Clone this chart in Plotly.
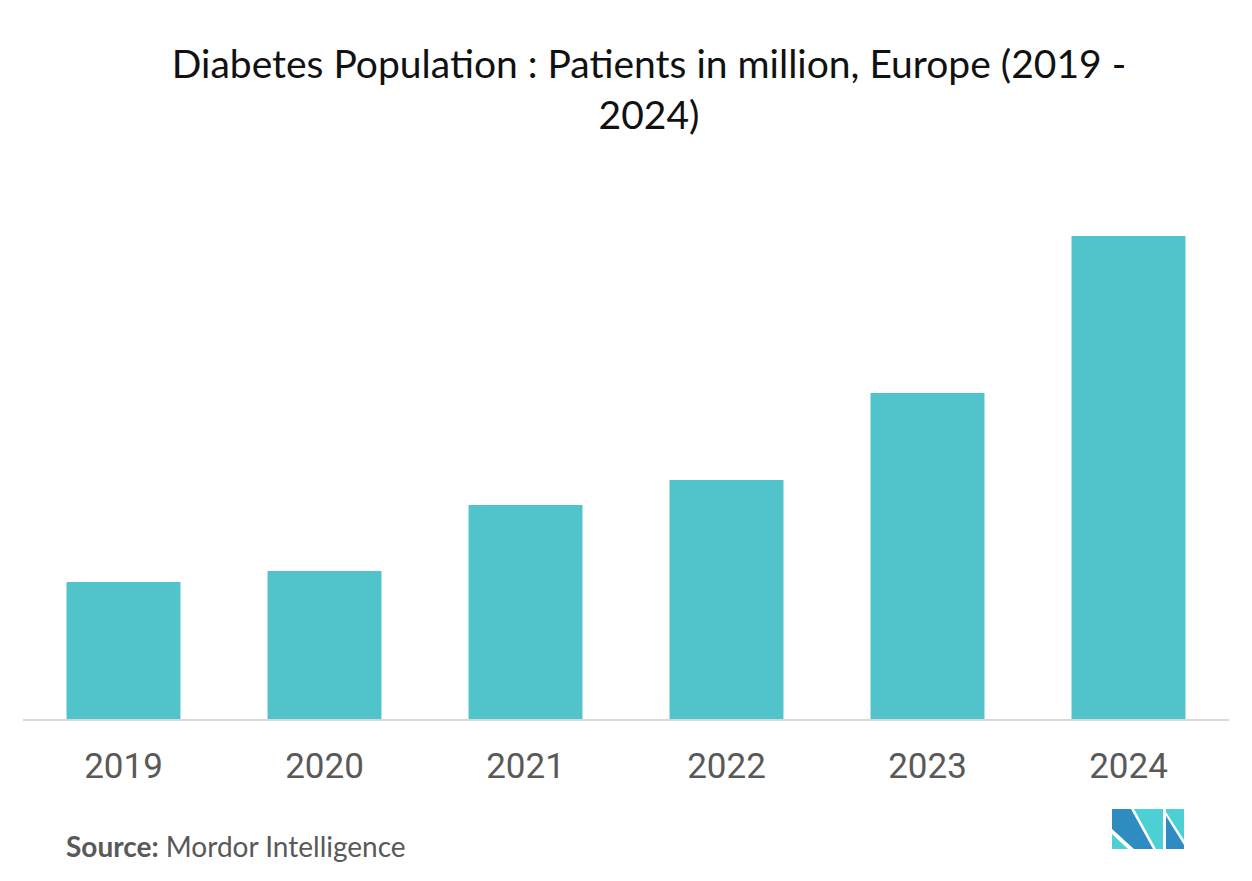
import plotly.graph_objects as go

# Data (arbitrary units proportional to bar height)
years = ["2019", "2020", "2021", "2022", "2023", "2024"]
patients = [13.7, 14.8, 21.4, 23.9, 32.6, 48.3]

title_text = "Diabetes Population : Patients in million, Europe (2019 -<br>2024)"
source_label = "Source:"
source_name = "Mordor Intelligence"

W, H = 1252, 881
O = 8  # page offset of the figure inside the browser window
# target screen positions
PLOT_L, PLOT_R, PLOT_T, PLOT_B = 23, 1229, 200, 719
ML = PLOT_L - O
MR = W - (PLOT_R - O)
MT = PLOT_T - O
MB = H - (PLOT_B - O)

BAR_COLOR = "#51C4CB"
LOGO_DARK = "#2E8CC1"
LOGO_LIGHT = "#4DD0D3"

fig = go.Figure(
    go.Bar(x=years, y=patients, marker_color=BAR_COLOR, marker_line_width=0)
)

def px_x(x):
    return (x - PLOT_L) / (PLOT_R - PLOT_L)

def px_y(y):
    return (PLOT_B - y) / (PLOT_B - PLOT_T)

def poly(points, color):
    path = "M " + " L ".join(f"{px_x(x):.5f},{px_y(y):.5f}" for x, y in points) + " Z"
    return dict(type="path", xref="paper", yref="paper", path=path,
                fillcolor=color, line=dict(width=0), layer="above")

shapes = [
    poly([(1112, 809), (1131, 809), (1153, 849), (1134, 849), (1112, 829)], LOGO_DARK),
    poly([(1112, 834), (1112, 849), (1128, 849)], LOGO_LIGHT),
    poly([(1134, 809), (1163, 809), (1163, 849), (1156, 849)], LOGO_LIGHT),
    poly([(1166, 809), (1184, 809), (1184, 840), (1166, 812)], LOGO_LIGHT),
    poly([(1166, 816), (1184, 845), (1184, 849), (1166, 849)], LOGO_DARK),
]

fig.update_layout(
    width=W, height=H,
    margin=dict(l=ML, r=MR, t=MT, b=MB, autoexpand=False),
    paper_bgcolor="white", plot_bgcolor="white",
    showlegend=False,
    bargap=0.433,
    title=dict(
        text=title_text,
        x=(649 - O) / W, xref="container", xanchor="center",
        y=1 - 70 / H, yref="container", yanchor="top",
        font=dict(family="Lato", size=39, color="#111111"),
    ),
    xaxis=dict(
        showline=True, linecolor="#D9D9D9", linewidth=2,
        ticks="", showgrid=False,
        ticklabelstandoff=15,
        tickfont=dict(family="Roboto", size=35, color="#595959"),
    ),
    yaxis=dict(visible=False, range=[0, 51.9], showgrid=False),
    shapes=shapes,
    annotations=[
        dict(
            text=f"<b>{source_label}</b> {source_name}",
            x=px_x(64), xref="paper", xanchor="left",
            y=px_y(846), yref="paper", yanchor="middle",
            showarrow=False,
            font=dict(family="Lato", size=28, color="#595959"),
        )
    ],
)

fig.write_html("out.html")
